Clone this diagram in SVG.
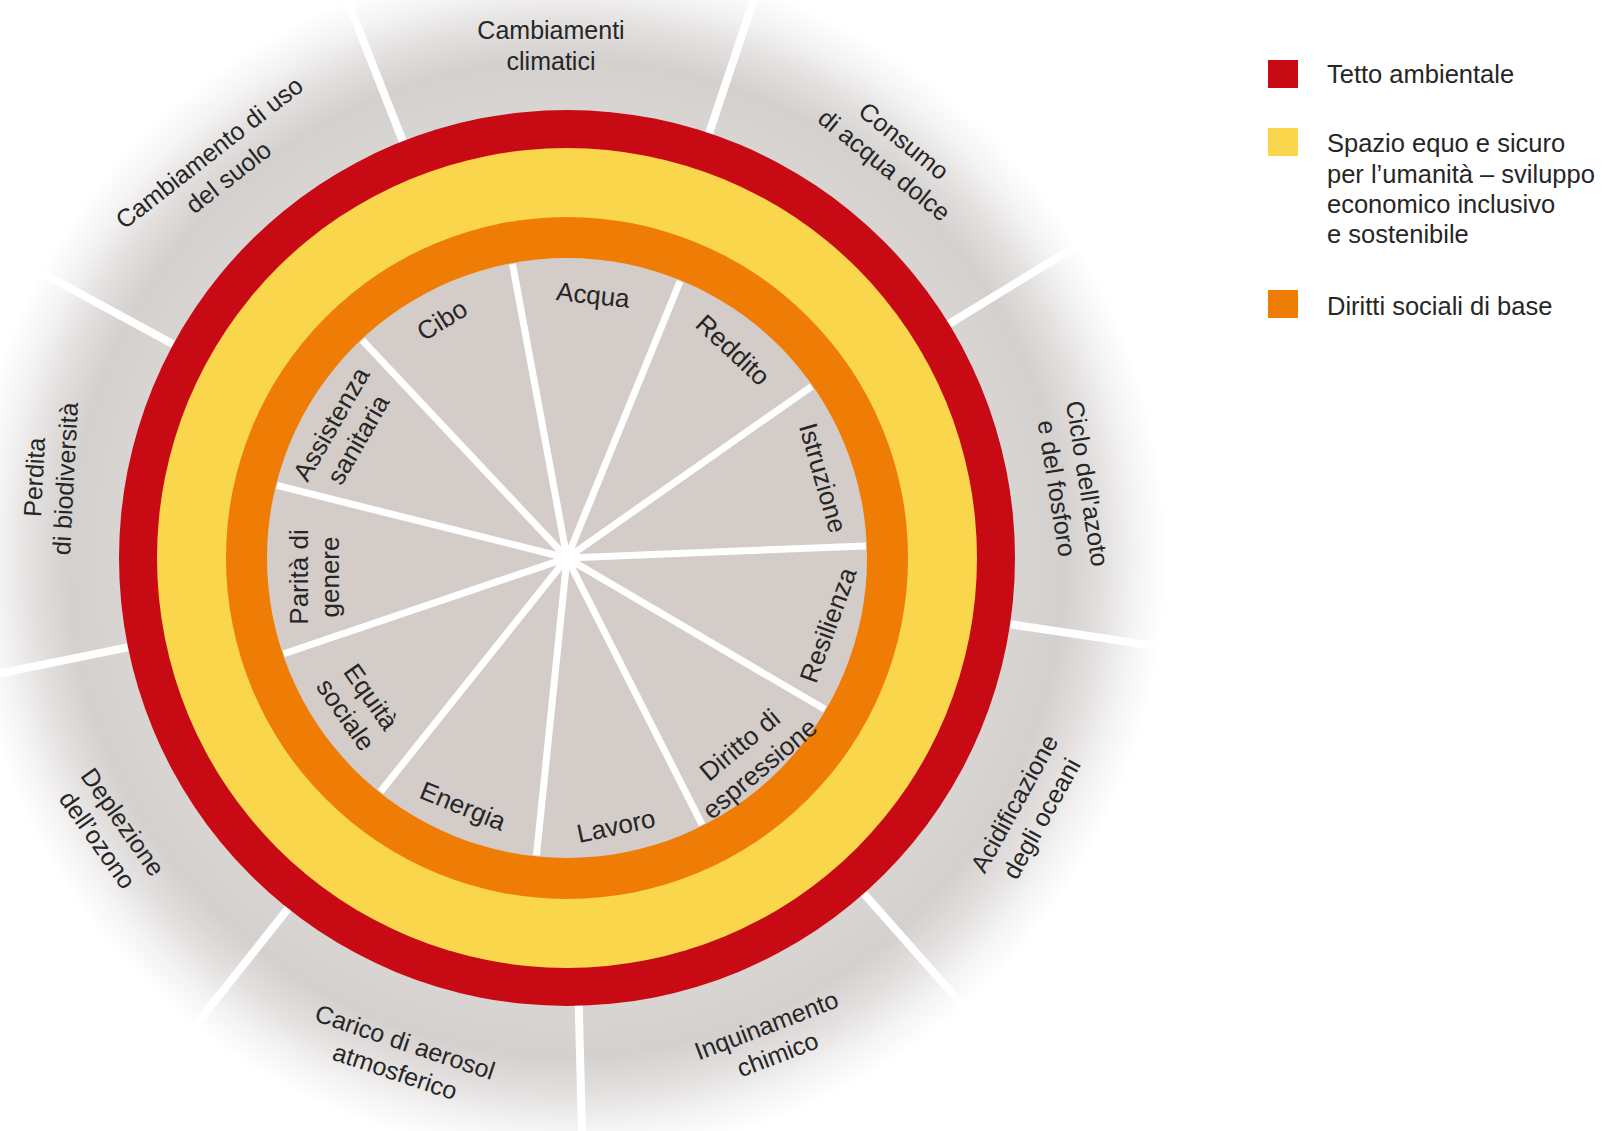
<svg xmlns="http://www.w3.org/2000/svg" width="1607" height="1131" viewBox="0 0 1607 1131">
  <defs>
    <radialGradient id="halo" cx="567" cy="558" r="600" gradientUnits="userSpaceOnUse">
      <stop offset="0.74" stop-color="#d9d5d3"/>
      <stop offset="0.83" stop-color="#d4d0ce"/>
      <stop offset="0.89" stop-color="#e2dfde"/>
      <stop offset="0.95" stop-color="#f5f4f4"/>
      <stop offset="1" stop-color="#ffffff"/>
    </radialGradient>
  </defs>
  <style>
    .outer-line { stroke: #ffffff; stroke-width: 8; }
    .spoke { stroke: #ffffff; stroke-width: 7; }
    .lbl { font-family: "Liberation Sans", Arial, sans-serif; fill: #262626; text-anchor: middle; }
    .out { font-size: 25px; }
    .in { font-size: 26px; }
    .leg { font-family: "Liberation Sans", Arial, sans-serif; font-size: 25.5px; fill: #262626; }
  </style>
  <rect x="0" y="0" width="1607" height="1131" fill="#ffffff"/>

  <g id="background-halo">
    <circle cx="567" cy="558" r="600" fill="url(#halo)"/>
  </g>

  <g id="connectors">
    <g id="boundary-dividers">
      <line class="outer-line" x1="567" y1="112" x2="567" y2="-45" transform="rotate(-21.5 567 558)"/>
      <line class="outer-line" x1="567" y1="112" x2="567" y2="-45" transform="rotate(18.5 567 558)"/>
      <line class="outer-line" x1="567" y1="112" x2="567" y2="-45" transform="rotate(58.5 567 558)"/>
      <line class="outer-line" x1="567" y1="112" x2="567" y2="-45" transform="rotate(98.5 567 558)"/>
      <line class="outer-line" x1="567" y1="112" x2="567" y2="-45" transform="rotate(138.5 567 558)"/>
      <line class="outer-line" x1="567" y1="112" x2="567" y2="-45" transform="rotate(178.5 567 558)"/>
      <line class="outer-line" x1="567" y1="112" x2="567" y2="-45" transform="rotate(218.5 567 558)"/>
      <line class="outer-line" x1="567" y1="112" x2="567" y2="-45" transform="rotate(258.5 567 558)"/>
      <line class="outer-line" x1="567" y1="112" x2="567" y2="-45" transform="rotate(298.5 567 558)"/>
    </g>
  </g>

  <g id="rings">
    <circle id="ring-environmental-ceiling" cx="567" cy="558" r="448" fill="#c80a14"/>
    <circle id="ring-safe-just-space" cx="567" cy="558" r="410" fill="#f9d64c"/>
    <circle id="ring-social-foundation" cx="567" cy="558" r="341" fill="#ef7d05"/>
    <circle id="inner-disk" cx="567" cy="558" r="300" fill="#d4ccc8"/>
  </g>

  <g id="spokes">
    <line class="spoke" x1="567" y1="558" x2="567" y2="259" transform="rotate(-10.5 567 558)"/>
    <line class="spoke" x1="567" y1="558" x2="567" y2="259" transform="rotate(22.227 567 558)"/>
    <line class="spoke" x1="567" y1="558" x2="567" y2="259" transform="rotate(54.955 567 558)"/>
    <line class="spoke" x1="567" y1="558" x2="567" y2="259" transform="rotate(87.682 567 558)"/>
    <line class="spoke" x1="567" y1="558" x2="567" y2="259" transform="rotate(120.409 567 558)"/>
    <line class="spoke" x1="567" y1="558" x2="567" y2="259" transform="rotate(153.136 567 558)"/>
    <line class="spoke" x1="567" y1="558" x2="567" y2="259" transform="rotate(185.864 567 558)"/>
    <line class="spoke" x1="567" y1="558" x2="567" y2="259" transform="rotate(218.591 567 558)"/>
    <line class="spoke" x1="567" y1="558" x2="567" y2="259" transform="rotate(251.318 567 558)"/>
    <line class="spoke" x1="567" y1="558" x2="567" y2="259" transform="rotate(284.045 567 558)"/>
    <line class="spoke" x1="567" y1="558" x2="567" y2="259" transform="rotate(316.773 567 558)"/>
    <circle cx="567" cy="558" r="13" fill="#ffffff"/>
  </g>

  <!-- Planetary boundaries (outer labels) -->
  <g id="node-cambiamenti-climatici" transform="translate(551 46)">
    <text class="lbl out"><tspan x="0" y="-7">Cambiamenti</tspan><tspan x="0" y="24">climatici</tspan></text>
  </g>
  <g id="node-consumo-acqua" transform="translate(894 153) rotate(39)">
    <text class="lbl out"><tspan x="0" y="-7">Consumo</tspan><tspan x="0" y="24">di acqua dolce</tspan></text>
  </g>
  <g id="node-ciclo-azoto" transform="translate(1072 486) rotate(81)">
    <text class="lbl out"><tspan x="0" y="-7">Ciclo dell'azoto</tspan><tspan x="0" y="24">e del fosforo</tspan></text>
  </g>
  <g id="node-acidificazione" transform="translate(1028 811) rotate(-61)">
    <text class="lbl out"><tspan x="0" y="-7">Acidificazione</tspan><tspan x="0" y="24">degli oceani</tspan></text>
  </g>
  <g id="node-inquinamento" transform="translate(772 1040) rotate(-21)">
    <text class="lbl out"><tspan x="0" y="-7">Inquinamento</tspan><tspan x="0" y="24">chimico</tspan></text>
  </g>
  <g id="node-aerosol" transform="translate(400 1057) rotate(18.5)">
    <text class="lbl out"><tspan x="0" y="-7">Carico di aerosol</tspan><tspan x="0" y="24">atmosferico</tspan></text>
  </g>
  <g id="node-ozono" transform="translate(110 831) rotate(55)">
    <text class="lbl out"><tspan x="0" y="-7">Deplezione</tspan><tspan x="0" y="24">dell’ozono</tspan></text>
  </g>
  <g id="node-biodiversita" transform="translate(50 478) rotate(-87)">
    <text class="lbl out"><tspan x="0" y="-7">Perdita</tspan><tspan x="0" y="24">di biodiversità</tspan></text>
  </g>
  <g id="node-uso-suolo" transform="translate(219 165) rotate(-38)">
    <text class="lbl out"><tspan x="0" y="-7">Cambiamento di uso</tspan><tspan x="0" y="24">del suolo</tspan></text>
  </g>

  <!-- Social foundation (inner labels) -->
  <g id="node-acqua" transform="translate(593 295) rotate(6)">
    <text class="lbl in" x="0" y="9">Acqua</text>
  </g>
  <g id="node-reddito" transform="translate(733 350) rotate(43)">
    <text class="lbl in" x="0" y="9">Reddito</text>
  </g>
  <g id="node-istruzione" transform="translate(823 478) rotate(74)">
    <text class="lbl in" x="0" y="9">Istruzione</text>
  </g>
  <g id="node-resilienza" transform="translate(828 625) rotate(-70)">
    <text class="lbl in" x="0" y="9">Resilienza</text>
  </g>
  <g id="node-diritto-espressione" transform="translate(750 757) rotate(-40)">
    <text class="lbl in"><tspan x="0" y="-7">Diritto di</tspan><tspan x="0" y="24">espressione</tspan></text>
  </g>
  <g id="node-lavoro" transform="translate(616 826) rotate(-12)">
    <text class="lbl in" x="0" y="9">Lavoro</text>
  </g>
  <g id="node-energia" transform="translate(463 806) rotate(22)">
    <text class="lbl in" x="0" y="9">Energia</text>
  </g>
  <g id="node-equita-sociale" transform="translate(358 706) rotate(55)">
    <text class="lbl in"><tspan x="0" y="-7">Equità</tspan><tspan x="0" y="24">sociale</tspan></text>
  </g>
  <g id="node-parita-genere" transform="translate(315 577) rotate(-90)">
    <text class="lbl in"><tspan x="0" y="-7">Parità di</tspan><tspan x="0" y="24">genere</tspan></text>
  </g>
  <g id="node-assistenza-sanitaria" transform="translate(345 432) rotate(-60)">
    <text class="lbl in"><tspan x="0" y="-7">Assistenza</tspan><tspan x="0" y="24">sanitaria</tspan></text>
  </g>
  <g id="node-cibo" transform="translate(442 320) rotate(-32)">
    <text class="lbl in" x="0" y="9">Cibo</text>
  </g>

  <!-- Legend -->
  <g id="legend-tetto">
    <rect x="1268" y="60" width="30" height="28" fill="#c80a14"/>
    <text class="leg" x="1327" y="83">Tetto ambientale</text>
  </g>
  <g id="legend-spazio">
    <rect x="1268" y="128" width="30" height="28" fill="#f9d64c"/>
    <text class="leg"><tspan x="1327" y="152">Spazio equo e sicuro</tspan><tspan x="1327" y="183">per l’umanità – sviluppo</tspan><tspan x="1327" y="213">economico inclusivo</tspan><tspan x="1327" y="243">e sostenibile</tspan></text>
  </g>
  <g id="legend-diritti">
    <rect x="1268" y="290" width="30" height="28" fill="#ef7d05"/>
    <text class="leg" x="1327" y="315">Diritti sociali di base</text>
  </g>
</svg>
